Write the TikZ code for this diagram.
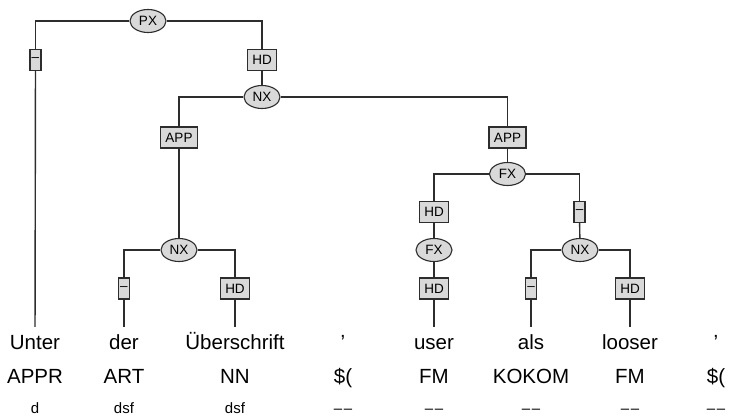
\documentclass[tikz,border=0pt]{standalone}
\usepackage{fontspec}
\setmainfont{Liberation Sans}
\usetikzlibrary{shapes.geometric}
\definecolor{catfill}{RGB}{217,217,217}
\definecolor{treeline}{RGB}{45,45,45}
\newcommand{\nolemma}{\textendash\kern1.5pt\textendash}
\tikzset{
  cat/.style={ellipse,draw=treeline,fill=catfill,line width=1.1pt,minimum width=36pt,minimum height=23pt,inner sep=0pt,font=\fontsize{13.5}{13.5}\selectfont},
  edgelab/.style={rectangle,draw=treeline,fill=catfill,line width=1.1pt,minimum height=21pt,inner xsep=5pt,inner ysep=0pt,font=\fontsize{13.5}{13.5}\selectfont},
  dashlab/.style={edgelab,minimum width=11pt,inner xsep=1pt},
  word/.style={anchor=base,font=\fontsize{20.5}{21}\selectfont,text height=15pt,text depth=4pt,inner xsep=0pt,inner ysep=7pt},
  postag/.style={anchor=base,font=\fontsize{20.5}{21}\selectfont,inner sep=0pt},
  lemma/.style={anchor=base,font=\fontsize{15}{15}\selectfont,inner sep=0pt},
  branch/.style={draw=treeline,line width=1.4pt}
}

\begin{document}
\begin{tikzpicture}[x=1pt,y=-1pt]
  \useasboundingbox (0,0) rectangle (729,418);
  % terminals
  \foreach \n/\x/\w/\t/\l in {1/35/Unter/APPR/d, 2/124/der/ART/dsf, 3/235/Überschrift/NN/dsf,
      4/343/’/{\$(}/{\nolemma}, 5/434/user/FM/{\nolemma},
      6/531/als/KOKOM/{\nolemma}, 7/630/looser/FM/{\nolemma},
      8/716/’/{\$(}/{\nolemma}} {
    \node[word] (w\n) at (\x,349) {\w};
    \node[postag] (t\n) at (\x,383) {\t};
    \node[lemma] (l\n) at (\x,413) {\l};
  }
  % edge labels
  \node[dashlab] (d1) at (35.5,60) {\textendash};
  \node[edgelab] (hd1) at (262,60) {HD};
  \node[edgelab] (app1) at (179,137.5) {APP};
  \node[edgelab] (app2) at (507.5,137.5) {APP};
  \node[edgelab] (hd2) at (434,212) {HD};
  \node[dashlab] (d2) at (579.5,212) {\textendash};
  \node[edgelab] (hd3) at (434,288.5) {HD};
  \node[dashlab] (d3) at (124,288.5) {\textendash};
  \node[edgelab] (hd4) at (235,288.5) {HD};
  \node[dashlab] (d4) at (531,288.5) {\textendash};
  \node[edgelab] (hd5) at (630,288.5) {HD};
  % categories
  \node[cat] (px) at (148,21) {PX};
  \node[cat] (nx1) at (262,97) {NX};
  \node[cat] (fx1) at (507.5,174) {FX};
  \node[cat] (nx2) at (179,250) {NX};
  \node[cat] (fx2) at (434,250) {FX};
  \node[cat] (nx3) at (580,250) {NX};
  % branches
  \draw[branch] (px) -| (d1);
  \draw[branch] (px) -| (hd1);
  \draw[branch] (d1) -- (w1);
  \draw[branch] (hd1) -- (nx1);
  \draw[branch] (nx1) -| (app1);
  \draw[branch] (nx1) -| (app2);
  \draw[branch] (app1) -- (nx2);
  \draw[branch] (nx2) -| (d3);
  \draw[branch] (nx2) -| (hd4);
  \draw[branch] (d3) -- (w2);
  \draw[branch] (hd4) -- (w3);
  \draw[branch] (app2) -- (fx1);
  \draw[branch] (fx1) -| (hd2);
  \draw[branch] (fx1) -| (d2);
  \draw[branch] (hd2) -- (fx2);
  \draw[branch] (fx2) -- (hd3);
  \draw[branch] (hd3) -- (w5);
  \draw[branch] (d2) -- (nx3);
  \draw[branch] (nx3) -| (d4);
  \draw[branch] (nx3) -| (hd5);
  \draw[branch] (d4) -- (w6);
  \draw[branch] (hd5) -- (w7);
\end{tikzpicture}
\end{document}
